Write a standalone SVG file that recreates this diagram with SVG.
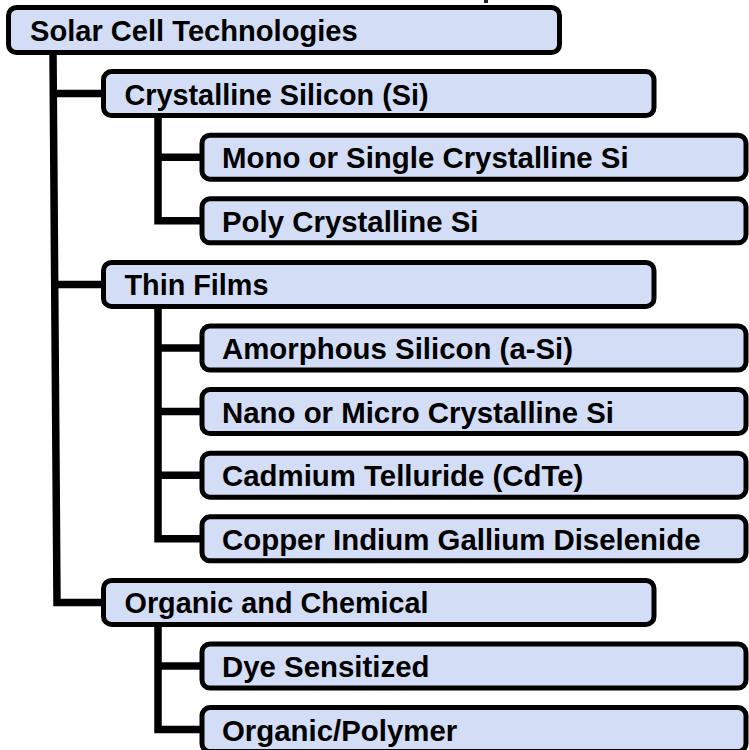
<svg xmlns="http://www.w3.org/2000/svg" width="749" height="750" viewBox="0 0 749 750">
<style>
.box{fill:#d3ddf5;stroke:#000;stroke-width:5}
.t{font-family:"Liberation Sans",Arial,sans-serif;font-weight:bold;font-size:28.8px;fill:#000}
.t2{font-size:29.4px}
.c{fill:none;stroke:#000;stroke-width:7.5;stroke-linejoin:miter}
</style>
<rect x="484" y="0" width="4" height="3" fill="#222"/>
<g id="connectors">
<path class="c" d="M53,52 L57,602.4 L104,602.4"/>
<path class="c" d="M53.3,93.6 L104,93.6"/>
<path class="c" d="M54.7,284.4 L104,284.4"/>
<path class="c" d="M158,116 L158,220.8 L203,220.8"/>
<path class="c" d="M158,157.2 L203,157.2"/>
<path class="c" d="M158,306 L158,538.8 L203,538.8"/>
<path class="c" d="M158,348 L203,348"/>
<path class="c" d="M158,411.6 L203,411.6"/>
<path class="c" d="M158,475.2 L203,475.2"/>
<path class="c" d="M158,624 L158,729.6 L203,729.6"/>
<path class="c" d="M158,666 L203,666"/>
</g>
<g id="n-root"><rect class="box" x="8.5" y="7.5" width="551" height="45" rx="8"/><text class="t" x="30" y="40.5" style="font-size:29.1px">Solar Cell Technologies</text></g>
<g id="n-crystalline"><rect class="box" x="103.5" y="71.6" width="550.5" height="44" rx="8"/><text class="t" x="124.5" y="104.6">Crystalline Silicon (Si)</text></g>
<g id="n-mono"><rect class="box" x="202" y="135.2" width="544" height="44" rx="8"/><text class="t t2" x="222" y="168.2">Mono or Single Crystalline Si</text></g>
<g id="n-poly"><rect class="box" x="202" y="198.8" width="544" height="44" rx="8"/><text class="t t2" x="222" y="231.8">Poly Crystalline Si</text></g>
<g id="n-thin"><rect class="box" x="103.5" y="262.4" width="550.5" height="44" rx="8"/><text class="t" x="124.5" y="295.4">Thin Films</text></g>
<g id="n-amorphous"><rect class="box" x="202" y="326" width="544" height="44" rx="8"/><text class="t t2" x="222" y="359">Amorphous Silicon (a-Si)</text></g>
<g id="n-nano"><rect class="box" x="202" y="389.6" width="544" height="44" rx="8"/><text class="t t2" x="222" y="422.6">Nano or Micro Crystalline Si</text></g>
<g id="n-cdte"><rect class="box" x="202" y="453.2" width="544" height="44" rx="8"/><text class="t t2" x="222" y="486.2">Cadmium Telluride (CdTe)</text></g>
<g id="n-cigs"><rect class="box" x="202" y="516.8" width="544" height="44" rx="8"/><text class="t t2" x="222" y="549.8">Copper Indium Gallium Diselenide</text></g>
<g id="n-organic"><rect class="box" x="103.5" y="580.4" width="550.5" height="44" rx="8"/><text class="t" x="124.5" y="613.4">Organic and Chemical</text></g>
<g id="n-dye"><rect class="box" x="202" y="644" width="544" height="44" rx="8"/><text class="t t2" x="222" y="677">Dye Sensitized</text></g>
<g id="n-polymer"><rect class="box" x="202" y="707.6" width="544" height="44" rx="8"/><text class="t t2" x="222" y="740.6">Organic/Polymer</text></g>
</svg>
